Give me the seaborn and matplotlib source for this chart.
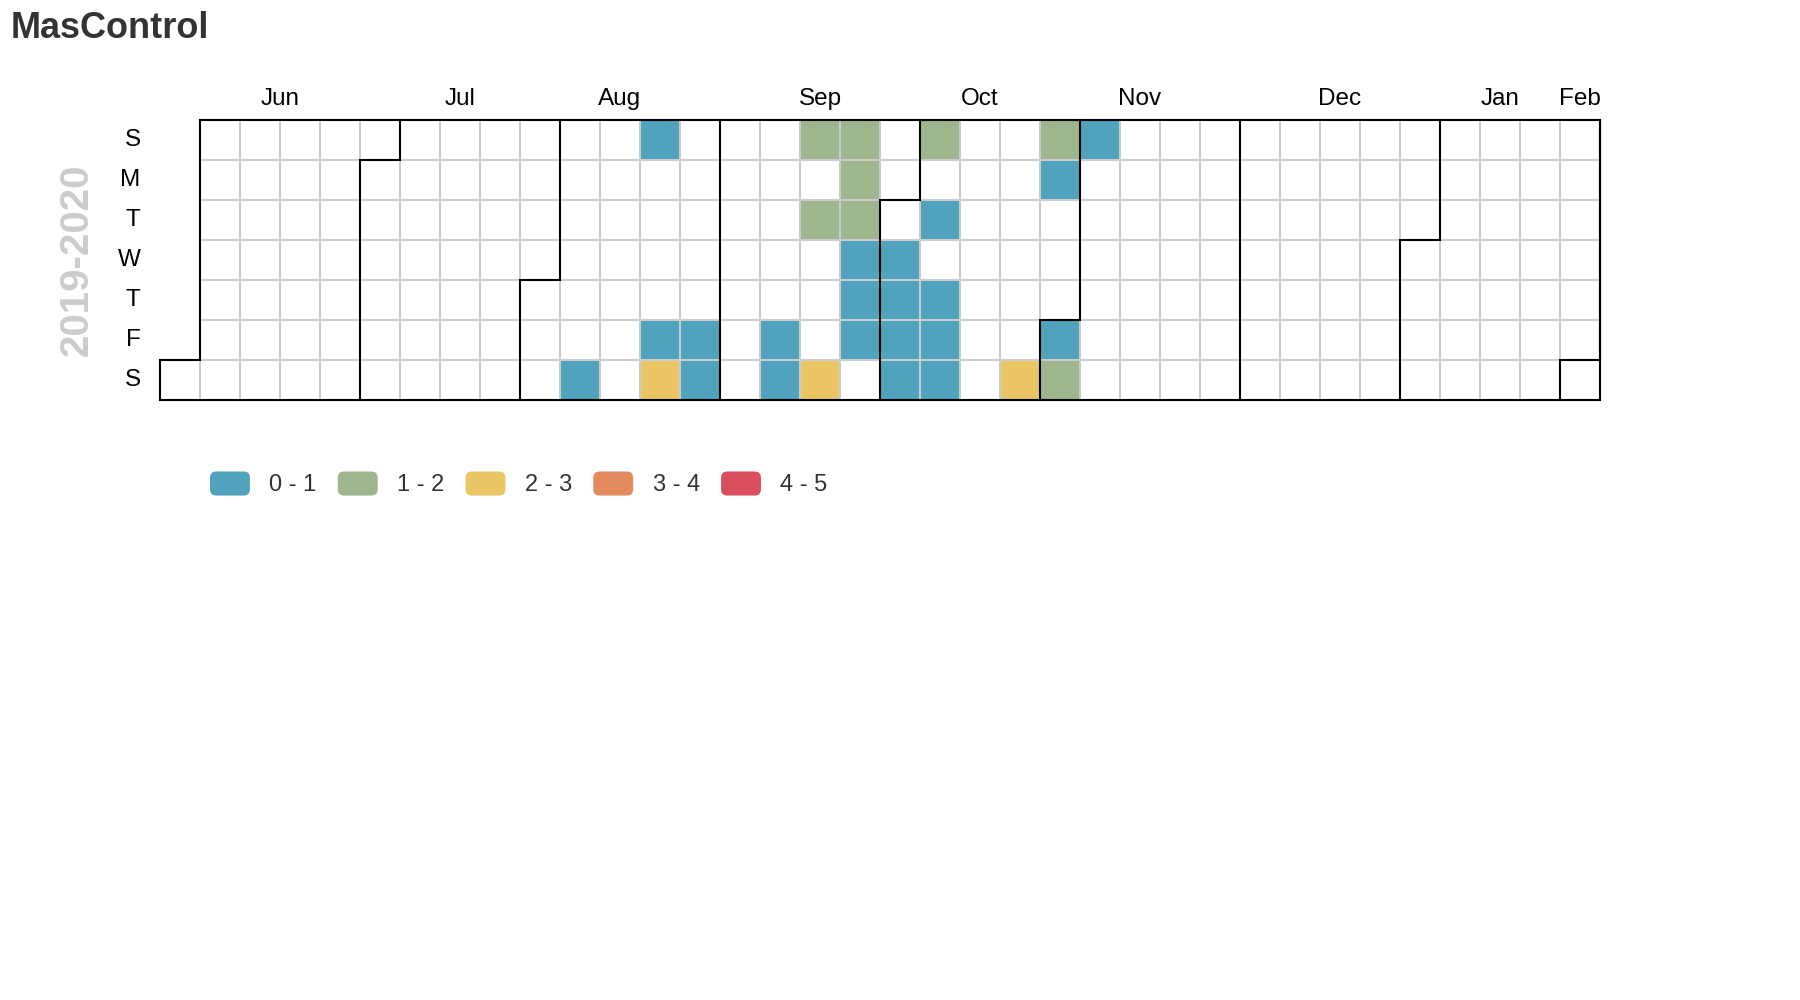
import numpy as np
import pandas as pd
import matplotlib
matplotlib.use("Agg")
import matplotlib.pyplot as plt
import seaborn as sns
from matplotlib.colors import ListedColormap, to_rgba
from matplotlib.patches import Patch, FancyBboxPatch
from matplotlib.legend_handler import HandlerPatch

# ---------------- data ----------------
title = "MasControl"
year_label = "2019-2020"
start_date = "2019-06-01"
end_date = "2020-02-01"
day_labels = ["S", "M", "T", "W", "T", "F", "S"]
month_labels = ["Jun", "Jul", "Aug", "Sep", "Oct", "Nov", "Dec", "Jan", "Feb"]

active_dates = [
    "2019-08-10", "2019-08-18", "2019-08-23", "2019-08-24", "2019-08-30",
    "2019-08-31", "2019-09-13", "2019-09-14", "2019-09-15", "2019-09-17",
    "2019-09-21", "2019-09-22", "2019-09-23", "2019-09-24", "2019-09-25",
    "2019-09-26", "2019-09-27", "2019-10-02", "2019-10-03", "2019-10-04",
    "2019-10-05", "2019-10-06", "2019-10-08", "2019-10-10", "2019-10-11",
    "2019-10-12", "2019-10-26", "2019-10-27", "2019-10-28", "2019-11-01",
    "2019-11-02", "2019-11-03",
]
active_values = [
    0.5, 0.5, 0.5, 2.5, 0.5,
    0.5, 0.5, 0.5, 1.5, 1.5,
    2.5, 1.5, 1.5, 1.5, 0.5,
    0.5, 0.5, 0.5, 0.5, 0.5,
    0.5, 1.5, 0.5, 0.5, 0.5,
    0.5, 2.5, 1.5, 0.5, 0.5,
    1.5, 0.5,
]
bin_edges = [0, 1, 2, 3, 4, 5]
bin_labels = ["0 - 1", "1 - 2", "2 - 3", "3 - 4", "4 - 5"]
bin_colors = ["#51a3bd", "#9db68d", "#e9c663", "#e38b5f", "#d94f5d"]
empty_color = "#ffffff"
grid_color = "#cccccc"

# ---------------- build calendar matrix ----------------
dates = pd.date_range(start_date, end_date, freq="D")
dow = ((dates.dayofweek + 1) % 7).to_numpy()          # Sunday = 0
first_sunday = dates[0] - pd.Timedelta(days=int(dow[0]))
week = ((dates - first_sunday).days // 7).to_numpy()
n_weeks = int(week.max()) + 1

EMPTY = bin_edges[0] - 1   # days in range without a value
value_map = dict(zip(pd.to_datetime(active_dates), active_values))
cal = np.full((7, n_weeks), np.nan)
for d, r, c in zip(dates, dow, week):
    cal[r, c] = value_map.get(d, EMPTY)

# ---------------- figure ----------------
plt.rcParams["font.family"] = ["Liberation Sans", "DejaVu Sans"]
fig = plt.figure(figsize=(18, 10), dpi=100)
ax = fig.add_axes([160 / 1800, 0.60, 0.80, 0.28])

sns.heatmap(cal, cmap=ListedColormap([empty_color] + bin_colors),
            vmin=EMPTY, vmax=bin_edges[-1], cbar=False, linewidths=1.1,
            linecolor=grid_color, ax=ax, xticklabels=False,
            yticklabels=day_labels)

# no grid lines around cells outside the date range
mesh = ax.collections[0]
flat = cal.ravel()
edge_cols = np.array([to_rgba(grid_color) if np.isfinite(v) else (0, 0, 0, 0)
                      for v in flat])
mesh.set_edgecolors(edge_cols)

ax.set_xlim(0, n_weeks)
ax.set_ylim(7, 0)
ax.tick_params(axis="y", length=0, pad=14, labelsize=17.5, labelcolor="black")
ax.tick_params(axis="x", length=0)
for t in ax.get_yticklabels():
    t.set_rotation(0)

# month boundaries
line_kw = dict(color="black", lw=1.5, clip_on=False, solid_joinstyle="miter",
               solid_capstyle="projecting", zorder=5)
month_starts = pd.date_range(dates[0], dates[-1], freq="MS")
boundaries = [dates[0]] + [m for m in month_starts if m != dates[0]]
for m in boundaries:
    i = int((m - dates[0]).days)
    w, d = int(week[i]), int(dow[i])
    if d == 0:
        ax.plot([w, w], [0, 7], **line_kw)
    else:
        ax.plot([w + 1, w + 1, w, w], [0, d, d, 7], **line_kw)
# outer frame
w0 = int(week[0]) + (1 if dow[0] != 0 else 0)
ax.plot([w0, n_weeks, n_weeks, 0], [0, 0, 7, 7], **line_kw)

# month labels centred over each month span
month_groups = pd.Series(week, index=dates).groupby([dates.year, dates.month])
for lab, (_, g) in zip(month_labels, month_groups):
    center = (g.min() + g.max() + 1) / 2
    ax.annotate(lab, xy=(center, 1), xycoords=("data", "axes fraction"),
                xytext=(0, 10.8), textcoords="offset points",
                ha="center", va="baseline", fontsize=17.5, color="black")

# year label and title
fig.text(76.5 / 1800, 1 - 260 / 1000, year_label, rotation=90, ha="center",
         va="center", fontsize=29, fontweight="bold", color="#cccccc")
fig.text(10.5 / 1800, 1 - 37.5 / 1000, title, ha="left", va="baseline",
         fontsize=26, fontweight="bold", color="#333333")


# legend with rounded swatches
class RoundHandler(HandlerPatch):
    def create_artists(self, legend, orig_handle, xdescent, ydescent,
                       width, height, fontsize, trans):
        p = FancyBboxPatch((-xdescent, -ydescent), width, height,
                           boxstyle="round,pad=0,rounding_size=4.5",
                           fc=orig_handle.get_facecolor(), ec="none",
                           transform=trans)
        return [p]


handles = [Patch(facecolor=c, label=l) for c, l in zip(bin_colors, bin_labels)]
leg = fig.legend(handles=handles, ncol=len(handles), loc="center left",
                 bbox_to_anchor=(210 / 1800, 1 - 484 / 1000), frameon=False,
                 fontsize=17, handlelength=1.69, handleheight=1.19,
                 handletextpad=0.82, columnspacing=0.9, borderpad=0,
                 borderaxespad=0,
                 handler_map={Patch: RoundHandler()})
for t in leg.get_texts():
    t.set_color("#333333")

fig.savefig("out.png", dpi=100, facecolor="white")
